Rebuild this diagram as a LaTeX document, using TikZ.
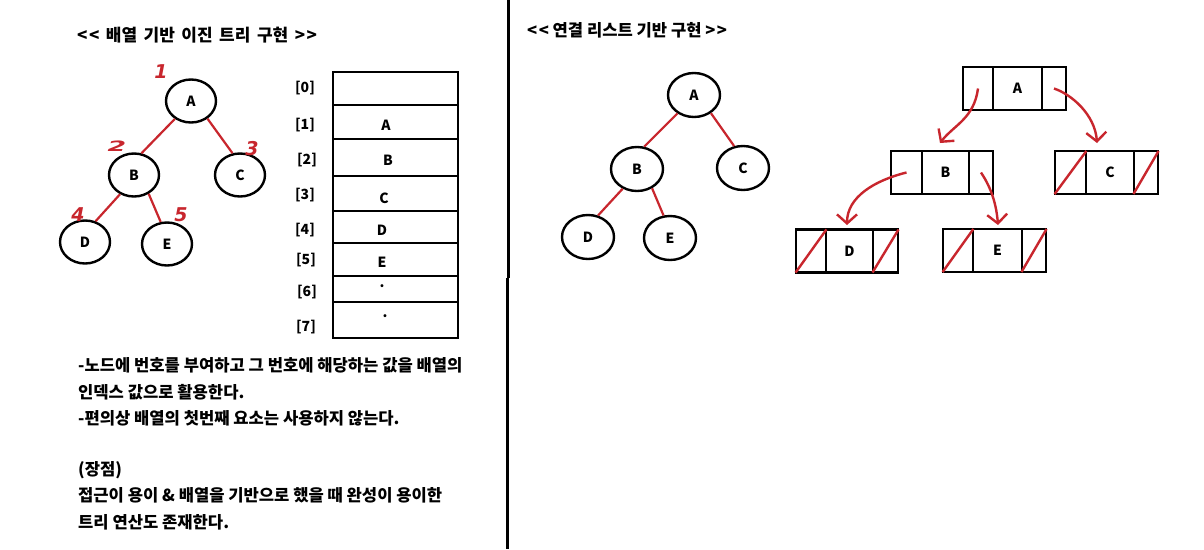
\documentclass[tikz,border=0pt]{standalone}
\usepackage{fontspec}
\setmainfont{Noto Sans CJK KR}
\newfontfamily\numfont{DejaVu Sans}
\usetikzlibrary{arrows.meta,shapes.geometric}
\definecolor{pen}{RGB}{200,38,45}
\newcommand{\ltlt}{<\kern1.5pt<}
\newcommand{\gtgt}{>\kern1.5pt>}
\newcommand{\wsp}{\hspace{6.5pt}}
\begin{document}
\begin{tikzpicture}[x=1pt,y=-1pt,
  circ/.style={ellipse, draw, line width=2.4pt, minimum width=50pt, minimum height=43pt, inner sep=0pt, font=\bfseries\fontsize{14}{14}\selectfont},
  redge/.style={draw=pen, line width=2.2pt},
  cell/.style={draw, line width=2.6pt, inner sep=0pt, minimum height=43pt},
  acell/.style={draw, line width=2.6pt, inner sep=0pt, minimum width=125pt},
  lbl/.style={font=\bfseries\fontsize{14}{14}\selectfont, inner sep=0pt},
  txt/.style={anchor=west, font=\bfseries\fontsize{16.6}{16.6}\selectfont, inner sep=0pt},
  ttl/.style={anchor=west, font=\bfseries\fontsize{16.6}{16.6}\selectfont, inner sep=0pt},
  hnum/.style={text=pen, font=\numfont\bfseries\itshape\fontsize{19}{19}\selectfont, inner sep=0pt},
  slash/.style={draw=pen, line width=2.4pt, shorten <=1.5pt, shorten >=1.5pt},
  rarrow/.style={draw=pen, line width=2.4pt, -{Straight Barb[length=9pt,width=20pt]}}
]
\useasboundingbox (0,0) rectangle (1204,549);
\fill[white] (0,0) rectangle (1204,549);

% ---------- left: array based ----------
\node[ttl, font=\bfseries\fontsize{17}{17}\selectfont] (ttl1) at (77,35) {\ltlt\wsp 배열\wsp 기반\wsp 이진\wsp 트리\wsp 구현\wsp\gtgt};

\node[circ] (lA) at (191,101) {A};
\node[circ] (lB) at (134,175) {B};
\node[circ] (lC) at (240,175) {C};
\node[circ] (lD) at (85,242) {D};
\node[circ] (lE) at (167,244) {E};
\draw[redge] (lA.228) -- (lB.71);
\draw[redge] (lA.313) -- (lC.109);
\draw[redge] (lB.234) -- (lD.63);
\draw[redge] (lB.308) -- (lE.106);

\node[hnum] (n1) at (161,72) {1};
\node[hnum,xscale=1.4,yscale=0.75] (n2) at (117,146) {2};
\node[hnum] (n3) at (252,149) {3};
\node[hnum] (n4) at (78,215) {4};
\node[hnum] (n5) at (181,215) {5};

\node[acell, minimum height=33pt] (a0) at (395.5,88.5) {};
\node[acell, minimum height=34pt] (a1) at (395.5,122) {};
\node[acell, minimum height=37pt] (a2) at (395.5,157.5) {};
\node[acell, minimum height=35pt] (a3) at (395.5,193.5) {};
\node[acell, minimum height=32pt] (a4) at (395.5,227) {};
\node[acell, minimum height=33pt] (a5) at (395.5,259.5) {};
\node[acell, minimum height=26pt] (a6) at (395.5,289) {};
\node[acell, minimum height=36pt] (a7) at (395.5,320) {};

\node[lbl] (i0) at (305,88) {[0]};
\node[lbl] (i1) at (305,125) {[1]};
\node[lbl] (i2) at (307,160) {[2]};
\node[lbl] (i3) at (305,195) {[3]};
\node[lbl] (i4) at (305,230) {[4]};
\node[lbl] (i5) at (306,260) {[5]};
\node[lbl] (i6) at (307,292) {[6]};
\node[lbl] (i7) at (306,327) {[7]};

\node[lbl] (v1) at (386,125) {A};
\node[lbl] (v2) at (388,160) {B};
\node[lbl] (v3) at (384,198) {C};
\node[lbl] (v4) at (382,230) {D};
\node[lbl] (v5) at (382,262) {E};
\node[lbl] (v6) at (382,286) {.};
\node[lbl] (v7) at (385,316) {.};

\node[txt] (t1) at (78,365) {-노드에 번호를 부여하고 그 번호에 해당하는 값을 배열의};
\node[txt] (t2) at (78,392) {인덱스 값으로 활용한다.};
\node[txt] (t3) at (78,418) {-편의상 배열의 첫번째 요소는 사용하지 않는다.};
\node[txt] (t4) at (78,470) {(장점)};
\node[txt] (t5) at (78,495) {접근이 용이 \& 배열을 기반으로 했을 때 완성이 용이한};
\node[txt] (t6) at (78,522) {트리 연산도 존재한다.};

% ---------- divider ----------
\draw[line width=3pt] (508.5,0) -- (508.5,277.5) (507.5,277.5) -- (507.5,549);

% ---------- right: linked list based ----------
\node[ttl] (ttl2) at (527,30) {\ltlt\ 연결 리스트 기반 구현 \gtgt};

\node[circ, minimum width=52pt, minimum height=44pt] (rA) at (694,95) {A};
\node[circ, minimum width=52pt, minimum height=44pt] (rB) at (637,169) {B};
\node[circ, minimum width=52pt, minimum height=44pt] (rC) at (743,168) {C};
\node[circ, minimum width=52pt, minimum height=44pt] (rD) at (588,237) {D};
\node[circ, minimum width=52pt, minimum height=44pt] (rE) at (670,238) {E};
\draw[redge] (rA.228) -- (rB.72);
\draw[redge] (rA.313) -- (rC.112);
\draw[redge] (rB.234) -- (rD.65);
\draw[redge] (rB.308) -- (rE.106);

% list boxes: left cell, middle cell, right cell
\node[cell, minimum width=30pt] (Al) at (978,88.5) {};
\node[cell, minimum width=49pt, lbl] (Am) at (1017.5,88.5) {A};
\node[cell, minimum width=24pt] (Ar) at (1054,88.5) {};

\node[cell, minimum width=31pt] (Bl) at (906.5,172.5) {};
\node[cell, minimum width=47pt, lbl] (Bm) at (945.5,172.5) {B};
\node[cell, minimum width=24pt] (Br) at (981,172.5) {};

\node[cell, minimum width=31pt] (Cl) at (1070.5,172.5) {};
\node[cell, minimum width=48pt, lbl] (Cm) at (1110,172.5) {C};
\node[cell, minimum width=24pt] (Cr) at (1146,172.5) {};

\node[cell, minimum width=30pt] (Dl) at (811,251) {};
\node[cell, minimum width=47pt, lbl] (Dm) at (849.5,251) {D};
\node[cell, minimum width=25pt] (Dr) at (885.5,251) {};

\node[cell, minimum width=30pt] (El) at (958,250.5) {};
\node[cell, minimum width=49pt, lbl] (Em) at (997.5,250.5) {E};
\node[cell, minimum width=24pt] (Er) at (1034,250.5) {};

\draw[slash] (Cl.south west) -- (Cl.north east);
\draw[slash] (Cr.south west) -- (Cr.north east);
\draw[slash] (Dl.south west) -- (Dl.north east);
\draw[slash] (Dr.south west) -- (Dr.north east);
\draw[slash] (El.south west) -- (El.north east);
\draw[slash] (Er.south west) -- (Er.north east);

\coordinate (tipB) at (940,143);
\coordinate (tipC) at (1097,143);
\coordinate (tipD) at (847,225);
\coordinate (tipE) at (998,225);
\draw[rarrow] (Al.center) .. controls +(-4,30) and +(14,-18) .. (tipB);
\draw[rarrow] (Ar.center) .. controls +(18,6) and +(-2,-28) .. (tipC);
\draw[rarrow] (Bl.center) .. controls +(-32,8) and +(0,-28) .. (tipD);
\draw[rarrow] (Br.center) .. controls +(8,12) and +(-2,-25) .. (tipE);
\end{tikzpicture}
\end{document}
